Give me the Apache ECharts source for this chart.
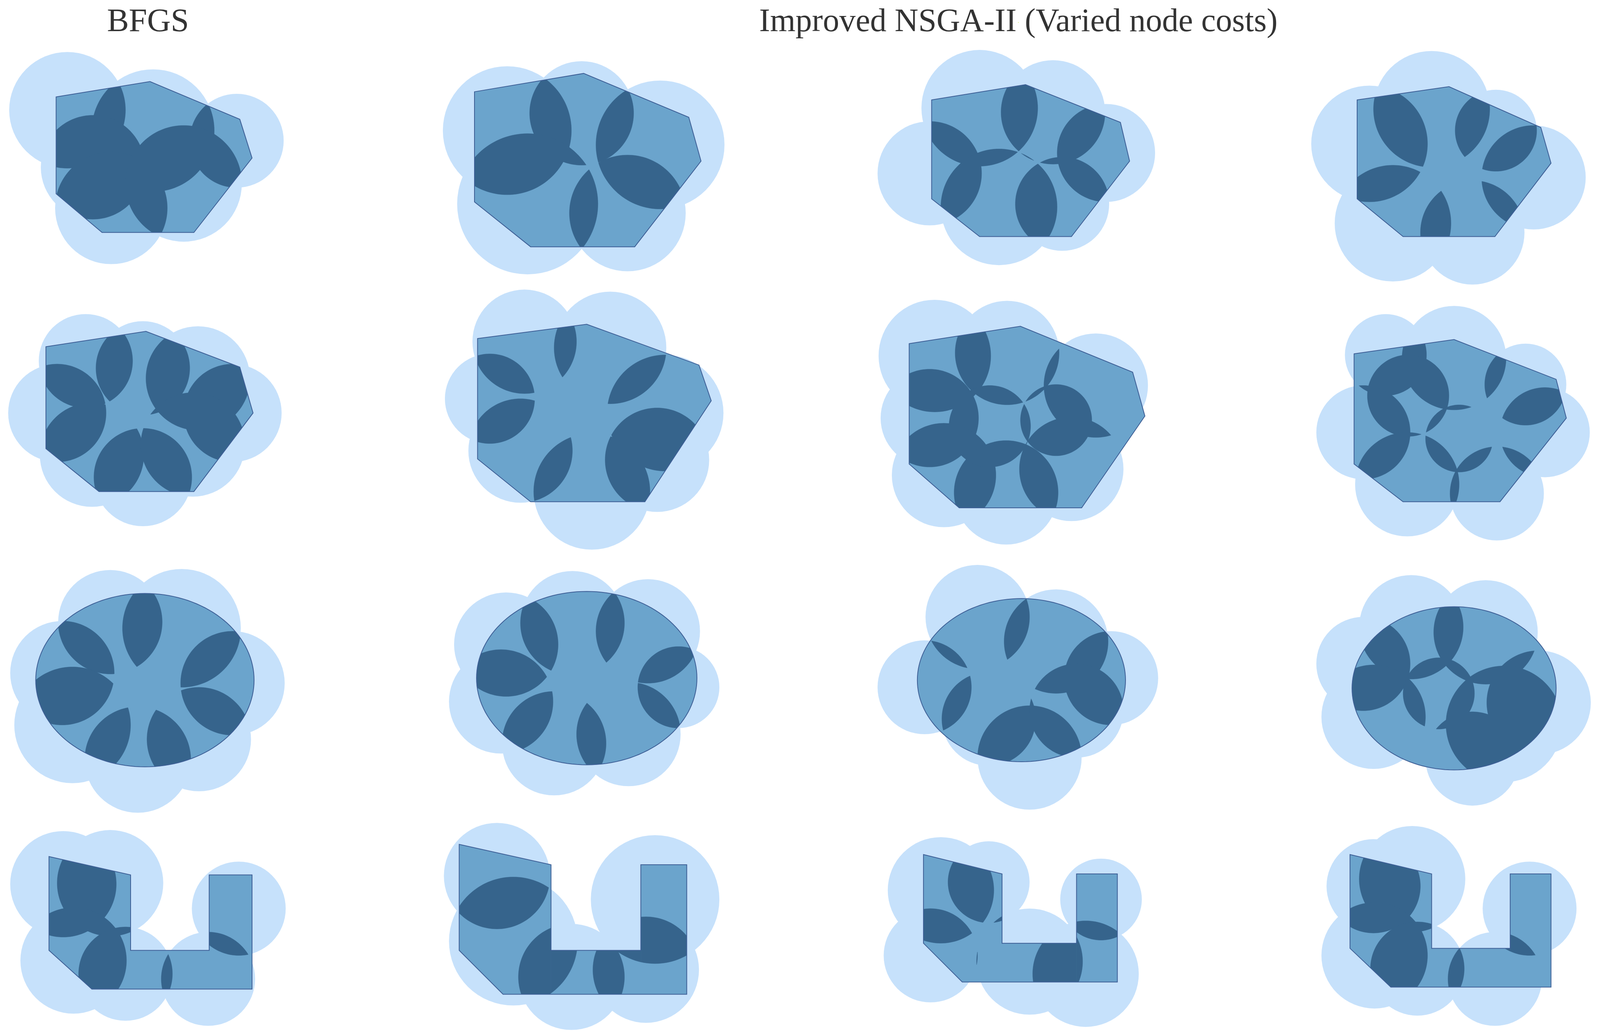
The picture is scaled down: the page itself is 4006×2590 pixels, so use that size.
<!DOCTYPE html>
<html><head><meta charset="utf-8">
<script src="https://cdn.jsdelivr.net/npm/echarts@6/dist/echarts.min.js"></script>
<style>html,body{margin:0;padding:0;background:#fff}#c{width:4006px;height:2590px}</style>
</head><body><div id="c"></div>
<script>
// Titles
const titles = [["BFGS",145,22],["Improved NSGA-II (Varied node costs)",998,22]];
// Hexagon-like outlines (x,y)
const hex1=[[55,95],[147,80],[235,117],[247,155],[190,228],[100,228],[55,190]];
const hex2=[[465,90],[572,72],[675,115],[687,158],[622,242],[520,242],[465,198]];
const hex3=[[913,98],[1005,83],[1098,120],[1107,158],[1050,232],[960,232],[913,195]];
const hex4=[[1330,98],[1420,85],[1510,125],[1520,160],[1465,232],[1375,232],[1330,195]];
const hex5=[[45,340],[143,325],[235,360],[248,405],[190,482],[97,482],[45,440]];
const hex6=[[468,332],[575,318],[685,358],[697,393],[632,492],[520,492],[468,450]];
const hex7=[[891,337],[1000,320],[1110,365],[1122,408],[1060,498],[940,498],[891,455]];
const hex8=[[1327,347],[1425,333],[1525,372],[1535,410],[1470,492],[1375,492],[1327,455]];
// Ellipses: cx, cy, rx, ry
const ell9=[142,667,107,85], ell10=[575,665,108,85], ell11=[1001,667,102,80], ell12=[1425,675,100,80];
// U shapes outlines
const u13o=[[48,840],[128,858],[128,932],[205,932],[205,858],[247,858],[247,970],[90,970],[48,932]];
const u14o=[[450,828],[540,848],[540,932],[628,932],[628,848],[673,848],[673,975],[493,975],[450,932]];
const u15o=[[905,838],[982,857],[982,925],[1055,925],[1055,857],[1095,857],[1095,963],[943,963],[905,925]];
const u16o=[[1323,838],[1403,857],[1403,930],[1480,930],[1480,857],[1520,857],[1520,968],[1363,968],[1323,930]];
// Circles per panel: cx, cy, r
const c1=[[66,108,57],[150,128,60],[232,138,46],[91,164,51],[109,204,55],[180,180,57]];
const c2=[[497,128,63],[570,111,51],[647,142,63],[517,200,69],[615,209,57]];
const c3=[[960,106,57],[1032,110,51],[1084,150,48],[911,170,51],[979,203,57],[1041,200,46]];
const c4=[[1403,107,57],[1466,128,40],[1342,141,57],[1503,174,51],[1365,219,57],[1443,228,51]];
const c5=[[84,354,46],[140,361,46],[194,371,51],[228,405,48],[56,405,48],[90,446,51],[140,468,48],[189,436,51]];
const c6=[[514,335,51],[598,341,55],[652,405,57],[480,391,44],[510,442,51],[580,482,57],[644,451,51]];
const c7=[[916,349,55],[987,346,51],[1074,378,51],[911,410,48],[925,466,51],[986,483,51],[1050,460,51],[970,418,40],[1035,412,35]];
const c8=[[1358,348,40],[1425,351,51],[1495,377,40],[1514,424,44],[1336,424,46],[1380,388,40],[1379,475,51],[1467,484,46],[1430,430,33]];
const c9=[[61,660,51],[108,610,51],[178,616,58],[228,670,51],[195,725,51],[135,745,52],[71,711,57]];
const c10=[[496,632,51],[561,611,51],[635,619,51],[665,674,40],[616,720,51],[543,729,51],[491,688,51]];
const c11=[[958,605,51],[1035,629,51],[1089,665,46],[906,674,46],[969,705,46],[1009,743,51],[1055,697,46]];
const c12=[[1383,615,51],[1456,620,51],[1508,689,51],[1336,651,46],[1346,703,51],[1443,744,46],[1474,710,57],[1410,680,35]];
const c13=[[62,867,52],[108,866,52],[234,891,46],[72,942,52],[123,955,46],[204,960,46]];
const c14=[[487,859,52],[503,923,63],[560,958,52],[633,951,52],[642,882,63]];
const c15=[[922,873,52],[969,865,40],[912,937,46],[1009,943,52],[1064,955,52],[1079,882,40]];
const c16=[[1346,869,46],[1384,862,52],[1499,891,46],[1347,937,52],[1389,950,46],[1465,960,46]];

function ellPts(e,n){const p=[];for(let i=0;i<n;i++){const a=2*Math.PI*i/n;p.push([e[0]+e[2]*Math.cos(a),e[1]+e[3]*Math.sin(a)]);}return p;}
function uParts(o){return [[o[0],o[1],[o[1][0],o[7][1]],o[7],o[8]],[o[2],o[3],[o[3][0],o[6][1]],[o[2][0],o[6][1]]],[o[4],o[5],o[6],[o[4][0],o[6][1]]]];}
const hexes=[hex1,hex2,hex3,hex4,hex5,hex6,hex7,hex8], ells=[ell9,ell10,ell11,ell12], us=[u13o,u14o,u15o,u16o];
const circ=[c1,c2,c3,c4,c5,c6,c7,c8,c9,c10,c11,c12,c13,c14,c15,c16];
const panels=[];
hexes.forEach(h=>panels.push({parts:[h],outline:h}));
ells.forEach(e=>{const p=ellPts(e,140);panels.push({parts:[p],outline:p});});
us.forEach(o=>panels.push({parts:uParts(o),outline:o}));
panels.forEach((p,i)=>p.c=circ[i]);

function area(p){let s=0;for(let i=0;i<p.length;i++){const a=p[i],b=p[(i+1)%p.length];s+=a[0]*b[1]-b[0]*a[1];}return s/2;}
function clip(subj,cl){
  const sgn=area(cl)>0?1:-1;let out=subj;
  for(let i=0;i<cl.length&&out.length;i++){
    const A=cl[i],B=cl[(i+1)%cl.length];
    const inside=p=>sgn*((B[0]-A[0])*(p[1]-A[1])-(B[1]-A[1])*(p[0]-A[0]))>=0;
    const inter=(p,q)=>{const x1=p[0],y1=p[1],x2=q[0],y2=q[1];const a1=B[1]-A[1],b1=A[0]-B[0],c1=a1*A[0]+b1*A[1];const a2=y2-y1,b2=x1-x2,c2=a2*x1+b2*y1;const d=a1*b2-a2*b1;return [(c1*b2-c2*b1)/d,(a1*c2-a2*c1)/d];};
    const inp=out;out=[];
    for(let j=0;j<inp.length;j++){const P=inp[j],Q=inp[(j+1)%inp.length];const pi=inside(P),qi=inside(Q);
      if(qi){if(!pi)out.push(inter(P,Q));out.push(Q);}else if(pi)out.push(inter(P,Q));}
  }
  return out;
}
function circPts(c,n){const p=[];for(let i=0;i<n;i++){const a=2*Math.PI*i/n;p.push([c[0]+c[2]*Math.cos(a),c[1]+c[2]*Math.sin(a)]);}return p;}

const LIGHT='#c6e1fb',MID='#6ba4cc',DARK='#36648c',EDGE='#3e5f96';
function renderItem(params,api){
  const P=panels[params.dataIndex];const ch=[];
  const tp=pt=>api.coord(pt);
  P.c.forEach(c=>{const ctr=api.coord([c[0],c[1]]);const r=api.size([c[2],0])[0];
    ch.push({type:'circle',shape:{cx:ctr[0],cy:ctr[1],r:r},style:{fill:LIGHT}});});
  ch.push({type:'polygon',shape:{points:P.outline.map(tp)},style:{fill:MID}});
  const cps=P.c.map(c=>circPts(c,140));
  for(let i=0;i<cps.length;i++)for(let j=i+1;j<cps.length;j++){
    const lens=clip(cps[i],cps[j]);if(lens.length<3)continue;
    P.parts.forEach(part=>{const q=clip(lens,part);if(q.length>=3)ch.push({type:'polygon',shape:{points:q.map(tp)},style:{fill:DARK,stroke:DARK,lineWidth:0.5}});});
  }
  ch.push({type:'polygon',shape:{points:P.outline.map(tp)},style:{fill:null,stroke:EDGE,lineWidth:2}});
  return {type:'group',children:ch};
}
const chart=echarts.init(document.getElementById('c'));
chart.setOption({
  animation:false,backgroundColor:'#fff',
  grid:{left:0,right:0,top:0,bottom:0},
  xAxis:{type:'value',min:0,max:1568,show:false},
  yAxis:{type:'value',min:0,max:1014,inverse:true,show:false},
  series:[
   {type:'custom',renderItem:renderItem,data:panels.map((p,i)=>[i]),encode:{x:[],y:[]}},
   {type:'scatter',symbolSize:0,data:titles.map(t=>[t[1],t[2],t[0]]),
    label:{show:true,formatter:p=>p.data[2],position:'inside',color:'#000',fontSize:82,fontFamily:'Liberation Serif'}}
  ]
});
</script></body></html>
